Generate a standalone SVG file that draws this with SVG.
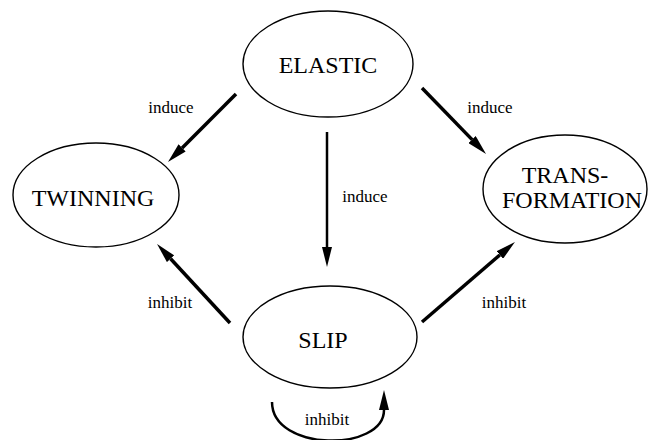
<svg xmlns="http://www.w3.org/2000/svg" width="648" height="440" viewBox="0 0 648 440">
<defs>
<style>
.node ellipse{fill:#fff;stroke:#000;stroke-width:1.4}
.nt{font-family:"Liberation Serif","Times New Roman",serif;font-size:24px;fill:#000;text-anchor:middle}
.lbl{font-family:"Liberation Serif","Times New Roman",serif;font-size:17px;fill:#000;text-anchor:middle}
.edge{stroke:#000;fill:none;stroke-width:3.5}
</style>
<marker id="ah" viewBox="0 0 20 10" refX="0" refY="5" markerWidth="20" markerHeight="10" markerUnits="userSpaceOnUse" orient="auto">
<path d="M0,0 L20,5 L0,10 z" fill="#000"/>
</marker>
</defs>
<rect width="648" height="440" fill="#fff"/>
<g id="connectors">
<line class="edge" x1="236" y1="94" x2="182.1" y2="147.9" marker-end="url(#ah)"/>
<line class="edge" x1="422" y1="88" x2="472.1" y2="139.6" marker-end="url(#ah)"/>
<line class="edge" style="stroke-width:2.5" x1="327" y1="132" x2="327" y2="247" marker-end="url(#ah)"/>
<line class="edge" x1="230" y1="323" x2="170.6" y2="258.7" marker-end="url(#ah)"/>
<line class="edge" x1="422" y1="322" x2="499.8" y2="255" marker-end="url(#ah)"/>
<path class="edge" style="stroke-width:2.5" d="M272,402 C272,452 384,452 384,410" marker-end="url(#ah)"/>
<text class="lbl" x="171" y="113">induce</text>
<text class="lbl" x="490" y="113">induce</text>
<text class="lbl" x="365" y="202">induce</text>
<text class="lbl" x="170" y="308">inhibit</text>
<text class="lbl" x="504" y="308">inhibit</text>
<text class="lbl" x="327" y="425">inhibit</text>
</g>
<g id="elastic" class="node">
<ellipse cx="328" cy="64" rx="85" ry="53"/>
<text class="nt" x="328" y="73">ELASTIC</text>
</g>
<g id="twinning" class="node">
<ellipse cx="96" cy="195" rx="83" ry="52"/>
<text class="nt" x="93" y="206">TWINNING</text>
</g>
<g id="transformation" class="node">
<ellipse cx="565" cy="189" rx="82" ry="54"/>
<text class="nt" x="565" y="183">TRANS-</text>
<text class="nt" x="572" y="208">FORMATION</text>
</g>
<g id="slip" class="node">
<ellipse cx="330" cy="337" rx="87" ry="51"/>
<text class="nt" x="323" y="348">SLIP</text>
</g>
</svg>
